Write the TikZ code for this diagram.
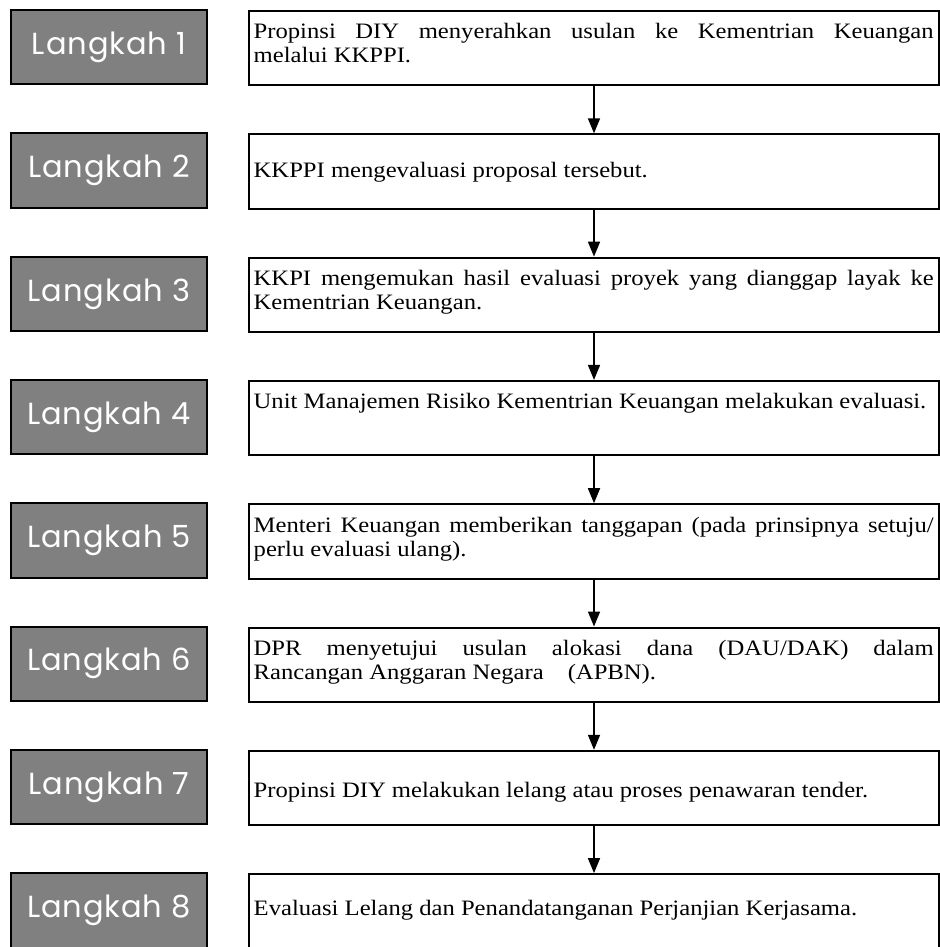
\documentclass[tikz,border=0pt]{standalone}
\usepackage{fontspec}
\setmainfont{Liberation Serif}
\newfontfamily\stepfont[LetterSpace=3]{Poppins}
\newfontfamily\descfont[FakeStretch=1.12]{Liberation Serif}
\usetikzlibrary{arrows.meta}
\definecolor{stepgray}{RGB}{128,128,128}
\hyphenpenalty=10000
\exhyphenpenalty=10000
\begin{document}
\begin{tikzpicture}[x=1pt,y=-1pt,
  stepbox/.style={draw=black, line width=2pt, fill=stepgray, minimum width=196pt,
    minimum height=74.5pt, inner sep=0pt, text=white,
    font=\stepfont\fontsize{30.5}{34}\selectfont},
  descbox/.style={draw=black, line width=2pt, fill=white, minimum width=690pt,
    minimum height=74.5pt, inner sep=0pt, anchor=north west},
  desctext/.style={anchor=base west, inner sep=0pt, text width=680pt, align=justify,
    font=\descfont\fontsize{22}{24}\selectfont},
  flow/.style={line width=1.6pt, -{Triangle[width=12pt,length=15pt]}}
]
\useasboundingbox[fill=white] (0,0) rectangle (939,947);

% left step labels
\node[stepbox] (s1) at (109,47.25) {Langkah 1};
\node[stepbox] (s2) at (109,170.55) {Langkah 2};
\node[stepbox] (s3) at (109,293.85) {Langkah 3};
\node[stepbox] (s4) at (109,417.15) {Langkah 4};
\node[stepbox] (s5) at (109,540.45) {Langkah 5};
\node[stepbox] (s6) at (109,663.75) {Langkah 6};
\node[stepbox] (s7) at (109,787.05) {Langkah 7};
\node[stepbox] (s8) at (109,910.35) {Langkah 8};

% right description boxes
\node[descbox] (d1) at (248,10) {};
\node[descbox] (d2) at (248,133.3) {};
\node[descbox] (d3) at (248,256.6) {};
\node[descbox] (d4) at (248,379.9) {};
\node[descbox] (d5) at (248,503.2) {};
\node[descbox] (d6) at (248,626.5) {};
\node[descbox] (d7) at (248,749.8) {};
\node[descbox, minimum height=76pt] (d8) at (248,873.1) {};

% texts
\node[desctext] (t1) at (253.5,38.5) {Propinsi DIY menyerahkan usulan ke Kementrian Keuangan\linebreak melalui KKPPI.};
\node[desctext] (t2) at (253.5,177.5) {KKPPI mengevaluasi proposal tersebut.};
\node[desctext] (t3) at (253.5,285) {KKPI mengemukan hasil evaluasi proyek yang dianggap layak ke\linebreak Kementrian Keuangan.};
\node[desctext] (t4) at (253.5,408.5) {Unit Manajemen Risiko Kementrian Keuangan melakukan evaluasi.};
\node[desctext] (t5) at (253.5,532) {Menteri Keuangan memberikan tanggapan (pada prinsipnya setuju/\linebreak perlu evaluasi ulang).};
\node[desctext] (t6) at (253.5,655) {DPR menyetujui usulan alokasi dana (DAU/DAK) dalam\linebreak Rancangan Anggaran Negara\hspace{24pt}(APBN).};
\node[desctext] (t7) at (253.5,797) {Propinsi DIY melakukan lelang atau proses penawaran tender.};
\node[desctext] (t8) at (253.5,915.5) {Evaluasi Lelang dan Penandatanganan Perjanjian Kerjasama.};

% connectors
\draw[flow] (d1.south) -- (d2.north);
\draw[flow] (d2.south) -- (d3.north);
\draw[flow] (d3.south) -- (d4.north);
\draw[flow] (d4.south) -- (d5.north);
\draw[flow] (d5.south) -- (d6.north);
\draw[flow] (d6.south) -- (d7.north);
\draw[flow] (d7.south) -- (d8.north);
\end{tikzpicture}
\end{document}
